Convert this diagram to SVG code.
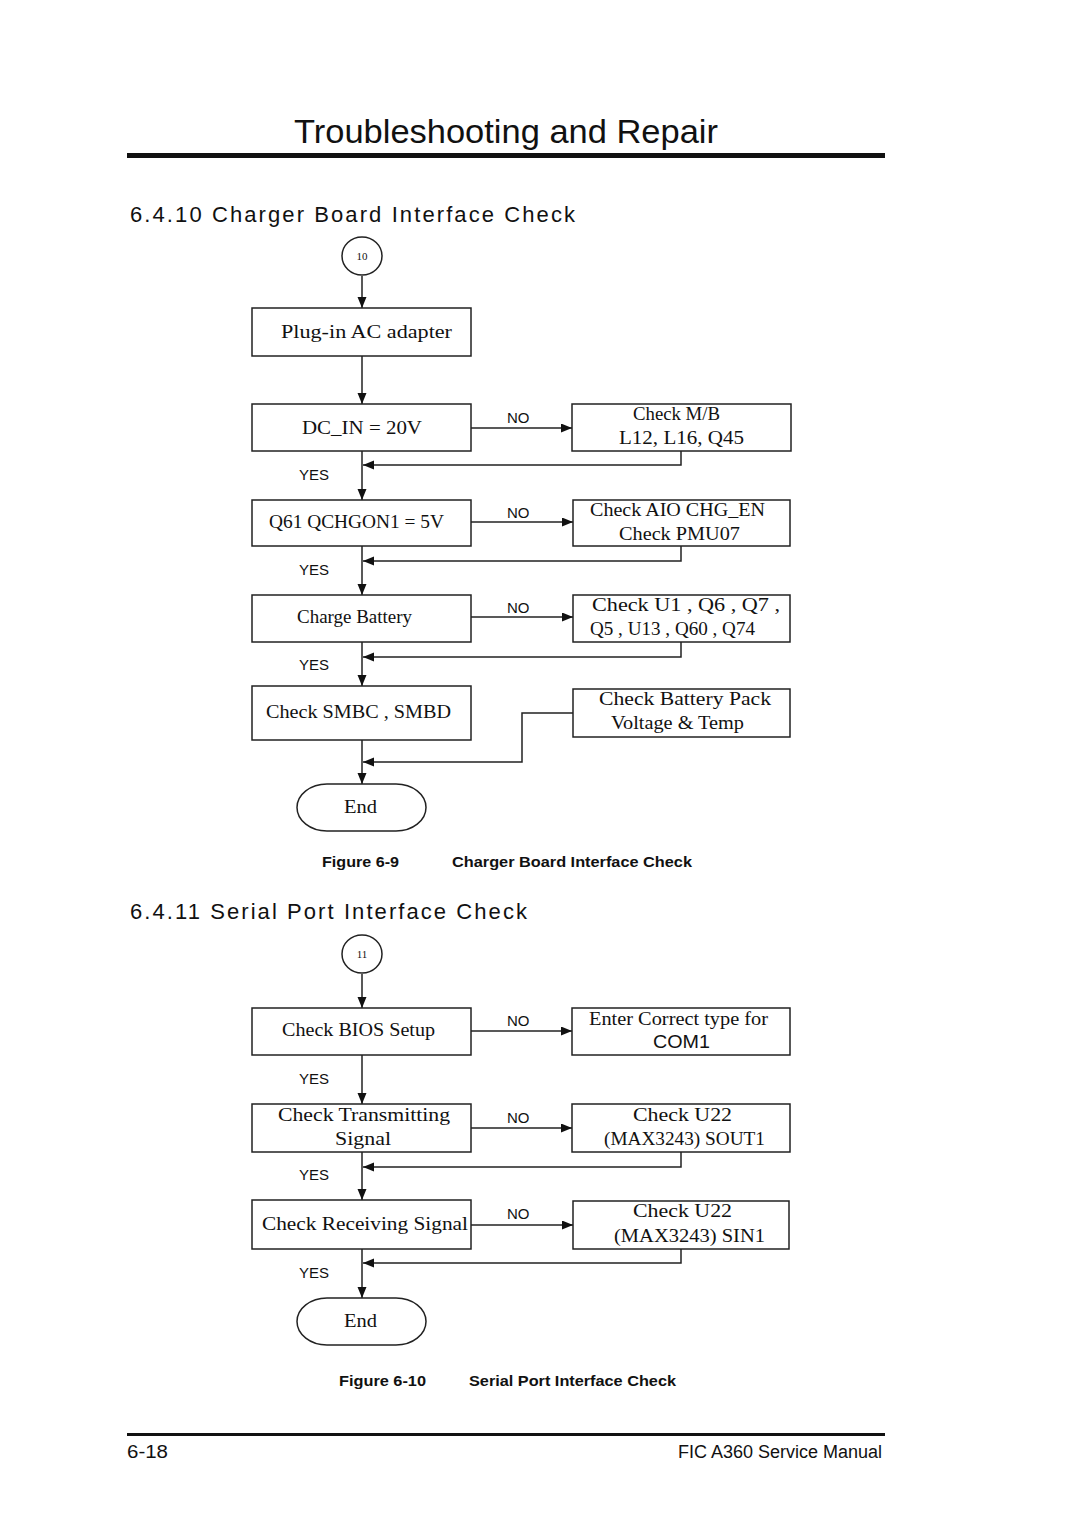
<svg xmlns="http://www.w3.org/2000/svg" width="1080" height="1527" viewBox="0 0 1080 1527">
<defs>
<marker id="ah" markerUnits="userSpaceOnUse" markerWidth="12" markerHeight="10" refX="11" refY="4.5" orient="auto">
<path d="M0,0 L11,4.5 L0,9 z" fill="#111"/>
</marker>
<style>
.box{fill:#fff;stroke:#222;stroke-width:1.5}
.ln{fill:none;stroke:#222;stroke-width:1.5}
.ar{fill:none;stroke:#222;stroke-width:1.5;marker-end:url(#ah)}
.t{font-family:"Liberation Serif","Times New Roman",serif;font-size:19px;fill:#111}
.s{font-family:"Liberation Sans",Arial,sans-serif;fill:#111}
.lbl{font-family:"Liberation Sans",Arial,sans-serif;font-size:15px;fill:#111}
.cap{font-family:"Liberation Sans",Arial,sans-serif;font-size:14px;font-weight:bold;fill:#111}
</style>
</defs>
<rect width="1080" height="1527" fill="#fff"/>

<!-- page header -->
<text class="s" x="294" y="143" font-size="34" textLength="424" lengthAdjust="spacingAndGlyphs">Troubleshooting and Repair</text>
<rect x="127" y="153" width="758" height="5" fill="#111"/>
<text class="s" x="130" y="222" font-size="22" textLength="445" lengthAdjust="spacing">6.4.10 Charger Board Interface Check</text>

<!-- Figure 6-9 -->
<g id="connectors1">
<path class="ar" d="M362,276 V308"/>
<path class="ar" d="M362,356 V404"/>
<path class="ar" d="M471,428 H572"/>
<path class="ar" d="M362,451 V500"/>
<path class="ar" d="M681,451 V465 H363"/>
<path class="ar" d="M471,522 H573"/>
<path class="ar" d="M362,546 V595"/>
<path class="ar" d="M681,546 V561 H363"/>
<path class="ar" d="M471,617 H573"/>
<path class="ar" d="M362,642 V686"/>
<path class="ar" d="M681,642 V657 H363"/>
<path class="ar" d="M362,740 V784"/>
<path class="ar" d="M573,713 H522 V762 H363"/>
<text class="lbl" x="507" y="423">NO</text>
<text class="lbl" x="299" y="480">YES</text>
<text class="lbl" x="507" y="518">NO</text>
<text class="lbl" x="299" y="575">YES</text>
<text class="lbl" x="507" y="613">NO</text>
<text class="lbl" x="299" y="670">YES</text>
</g>

<g id="n10">
<ellipse cx="362" cy="256" rx="20" ry="19" class="box"/>
<text x="362" y="260" text-anchor="middle" font-family="Liberation Serif,serif" font-size="11" fill="#111">10</text>
</g>
<g id="plugin">
<rect class="box" x="252" y="308" width="219" height="48"/>
<text class="t" x="281" y="338" textLength="171" lengthAdjust="spacingAndGlyphs">Plug-in AC adapter</text>
</g>
<g id="dcin">
<rect class="box" x="252" y="404" width="219" height="47"/>
<text class="t" x="302" y="434" textLength="120" lengthAdjust="spacingAndGlyphs">DC_IN = 20V</text>
</g>
<g id="checkmb">
<rect class="box" x="572" y="404" width="219" height="47"/>
<text class="t" x="633" y="420" textLength="87" lengthAdjust="spacingAndGlyphs">Check M/B</text>
<text class="t" x="619" y="444" textLength="125" lengthAdjust="spacingAndGlyphs">L12, L16, Q45</text>
</g>
<g id="q61">
<rect class="box" x="252" y="500" width="219" height="46"/>
<text class="t" x="269" y="528" textLength="175" lengthAdjust="spacingAndGlyphs">Q61 QCHGON1 = 5V</text>
</g>
<g id="checkaio">
<rect class="box" x="573" y="500" width="217" height="46"/>
<text class="t" x="590" y="516" textLength="175" lengthAdjust="spacingAndGlyphs">Check AIO CHG_EN</text>
<text class="t" x="619" y="540" textLength="121" lengthAdjust="spacingAndGlyphs">Check PMU07</text>
</g>
<g id="charge">
<rect class="box" x="252" y="595" width="219" height="47"/>
<text class="t" x="297" y="623" textLength="115" lengthAdjust="spacingAndGlyphs">Charge Battery</text>
</g>
<g id="checku1">
<rect class="box" x="573" y="595" width="217" height="47"/>
<text class="t" x="592" y="611" textLength="188" lengthAdjust="spacingAndGlyphs">Check U1 , Q6 , Q7 ,</text>
<text class="t" x="590" y="635" textLength="165" lengthAdjust="spacingAndGlyphs">Q5 , U13 , Q60 , Q74</text>
</g>
<g id="smbc">
<rect class="box" x="252" y="686" width="219" height="54"/>
<text class="t" x="266" y="718" textLength="185" lengthAdjust="spacingAndGlyphs">Check SMBC , SMBD</text>
</g>
<g id="battpack">
<rect class="box" x="573" y="689" width="217" height="48"/>
<text class="t" x="599" y="705" textLength="172" lengthAdjust="spacingAndGlyphs">Check Battery Pack</text>
<text class="t" x="611" y="729" textLength="133" lengthAdjust="spacingAndGlyphs">Voltage &amp; Temp</text>
</g>
<g id="end1">
<rect class="box" x="297" y="784" width="129" height="47" rx="30" ry="23.5"/>
<text class="t" x="344" y="813" textLength="33" lengthAdjust="spacingAndGlyphs">End</text>
</g>

<text class="cap" x="322" y="867" textLength="77" lengthAdjust="spacingAndGlyphs">Figure 6-9</text>
<text class="cap" x="452" y="867" textLength="240" lengthAdjust="spacingAndGlyphs">Charger Board Interface Check</text>

<text class="s" x="130" y="919" font-size="22" textLength="397" lengthAdjust="spacing">6.4.11 Serial Port Interface Check</text>

<!-- Figure 6-10 -->
<g id="connectors2">
<path class="ar" d="M362,974 V1008"/>
<path class="ar" d="M471,1031 H572"/>
<path class="ar" d="M362,1055 V1104"/>
<path class="ar" d="M471,1128 H572"/>
<path class="ar" d="M362,1152 V1200"/>
<path class="ar" d="M681,1152 V1167 H363"/>
<path class="ar" d="M471,1225 H573"/>
<path class="ar" d="M362,1249 V1298"/>
<path class="ar" d="M681,1249 V1263 H363"/>
<text class="lbl" x="507" y="1026">NO</text>
<text class="lbl" x="299" y="1084">YES</text>
<text class="lbl" x="507" y="1123">NO</text>
<text class="lbl" x="299" y="1180">YES</text>
<text class="lbl" x="507" y="1219">NO</text>
<text class="lbl" x="299" y="1278">YES</text>
</g>

<g id="n11">
<ellipse cx="362" cy="954" rx="20" ry="19" class="box"/>
<text x="362" y="958" text-anchor="middle" font-family="Liberation Serif,serif" font-size="11" fill="#111">11</text>
</g>
<g id="bios">
<rect class="box" x="252" y="1008" width="219" height="47"/>
<text class="t" x="282" y="1036" textLength="153" lengthAdjust="spacingAndGlyphs">Check BIOS Setup</text>
</g>
<g id="entercom">
<rect class="box" x="572" y="1008" width="218" height="47"/>
<text class="t" x="589" y="1025" textLength="179" lengthAdjust="spacingAndGlyphs">Enter Correct type for</text>
<text class="s" x="653" y="1048" font-size="18" textLength="57" lengthAdjust="spacingAndGlyphs">COM1</text>
</g>
<g id="transmit">
<rect class="box" x="252" y="1104" width="219" height="48"/>
<text class="t" x="278" y="1121" textLength="172" lengthAdjust="spacingAndGlyphs">Check Transmitting</text>
<text class="t" x="335" y="1145" textLength="56" lengthAdjust="spacingAndGlyphs">Signal</text>
</g>
<g id="u22sout">
<rect class="box" x="572" y="1104" width="218" height="48"/>
<text class="t" x="633" y="1121" textLength="99" lengthAdjust="spacingAndGlyphs">Check U22</text>
<text class="t" x="604" y="1145" textLength="161" lengthAdjust="spacingAndGlyphs">(MAX3243) SOUT1</text>
</g>
<g id="receive">
<rect class="box" x="252" y="1200" width="219" height="49"/>
<text class="t" x="262" y="1230" textLength="206" lengthAdjust="spacingAndGlyphs">Check Receiving Signal</text>
</g>
<g id="u22sin">
<rect class="box" x="573" y="1201" width="216" height="48"/>
<text class="t" x="633" y="1217" textLength="99" lengthAdjust="spacingAndGlyphs">Check U22</text>
<text class="t" x="614" y="1242" textLength="151" lengthAdjust="spacingAndGlyphs">(MAX3243) SIN1</text>
</g>
<g id="end2">
<rect class="box" x="297" y="1298" width="129" height="47" rx="30" ry="23.5"/>
<text class="t" x="344" y="1327" textLength="33" lengthAdjust="spacingAndGlyphs">End</text>
</g>

<text class="cap" x="339" y="1386" textLength="87" lengthAdjust="spacingAndGlyphs">Figure 6-10</text>
<text class="cap" x="469" y="1386" textLength="207" lengthAdjust="spacingAndGlyphs">Serial Port Interface Check</text>

<!-- footer -->
<rect x="127" y="1433" width="758" height="3" fill="#111"/>
<text class="s" x="127" y="1458" font-size="18" textLength="41" lengthAdjust="spacingAndGlyphs">6-18</text>
<text class="s" x="882" y="1458" font-size="18" text-anchor="end">FIC A360 Service Manual</text>
</svg>
